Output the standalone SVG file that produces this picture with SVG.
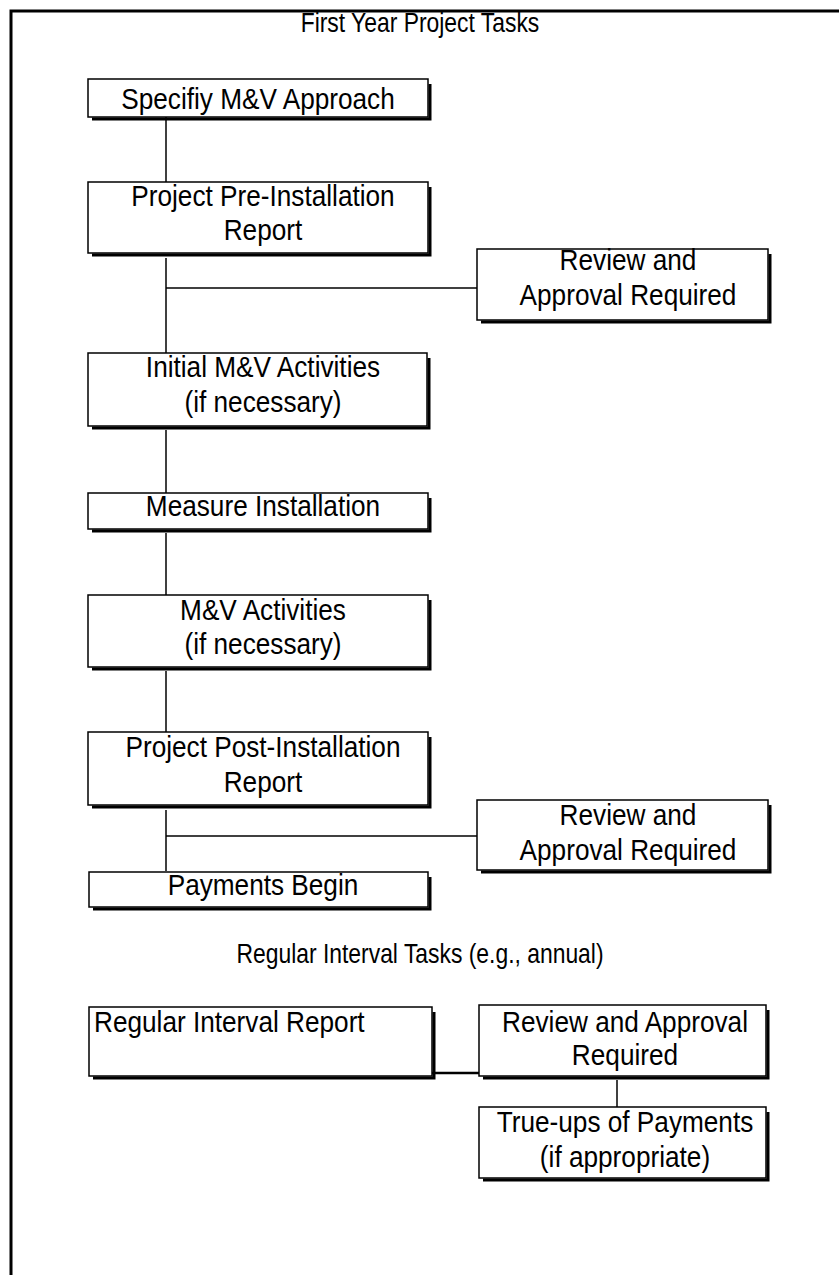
<svg xmlns="http://www.w3.org/2000/svg" width="839" height="1275" viewBox="0 0 839 1275">
<style>
.bg{fill:#fff}
.box{fill:#fff;stroke:#000;stroke-width:1.5}
.sh{fill:none;stroke:#000;stroke-width:3}
.t{font-family:"Liberation Sans",Arial,sans-serif;font-size:27px;fill:#000;text-anchor:middle;transform-box:fill-box;transform-origin:center;transform:scale(0.97,1.08)}
.h{font-size:26px;transform:scale(0.88,1.08)}
.ts{text-anchor:start;transform-origin:left center}
.c{fill:none;stroke:#000;stroke-width:1.5}
.frame{fill:none;stroke:#000;stroke-width:3}
</style>
<rect class="bg" x="0" y="0" width="839" height="1275"/>
<path class="frame" d="M11,1275 V11 H839"/>
<text class="t h" x="420" y="31">First Year Project Tasks</text>
<text class="t h" x="420" y="962">Regular Interval Tasks (e.g., annual)</text>

<g id="connectors">
<path class="c" d="M166,117 V182"/>
<path class="c" d="M166,258 V353"/>
<path class="c" d="M166,288 H477"/>
<path class="c" d="M166,430 V493"/>
<path class="c" d="M166,533 V595"/>
<path class="c" d="M166,671 V732"/>
<path class="c" d="M166,810 V871"/>
<path class="c" d="M166,836 H477"/>
<path class="c" d="M432,1073 H479" style="stroke-width:2.5"/>
<path class="c" d="M617,1080 V1107"/>
</g>

<g id="n1">
<rect class="box" x="88" y="79" width="340" height="38"/>
<path class="sh" d="M92,119 H430 V84"/>
<text class="t" x="258" y="108">Specifiy M&amp;V Approach</text>
</g>
<g id="n2">
<rect class="box" x="88" y="182" width="340" height="71"/>
<path class="sh" d="M92,255 H430 V187"/>
<text class="t" x="263" y="205">Project Pre-Installation</text>
<text class="t" x="263" y="239">Report</text>
</g>
<g id="n3">
<rect class="box" x="477" y="249" width="291" height="71"/>
<path class="sh" d="M481,322 H770 V254"/>
<text class="t" x="628" y="269">Review and</text>
<text class="t" x="628" y="304">Approval Required</text>
</g>
<g id="n4">
<rect class="box" x="88" y="353" width="339" height="73"/>
<path class="sh" d="M92,428 H429 V358"/>
<text class="t" x="263" y="376">Initial M&amp;V Activities</text>
<text class="t" x="263" y="411">(if necessary)</text>
</g>
<g id="n5">
<rect class="box" x="88" y="493" width="340" height="36"/>
<path class="sh" d="M92,531 H430 V498"/>
<text class="t" x="263" y="515">Measure Installation</text>
</g>
<g id="n6">
<rect class="box" x="88" y="595" width="340" height="72"/>
<path class="sh" d="M92,669 H430 V600"/>
<text class="t" x="263" y="619">M&amp;V Activities</text>
<text class="t" x="263" y="653">(if necessary)</text>
</g>
<g id="n7">
<rect class="box" x="88" y="732" width="340" height="73"/>
<path class="sh" d="M92,807 H430 V737"/>
<text class="t" x="263" y="756">Project Post-Installation</text>
<text class="t" x="263" y="791">Report</text>
</g>
<g id="n8">
<rect class="box" x="477" y="800" width="291" height="70"/>
<path class="sh" d="M481,872 H770 V805"/>
<text class="t" x="628" y="824">Review and</text>
<text class="t" x="628" y="859">Approval Required</text>
</g>
<g id="n9">
<rect class="box" x="89" y="872" width="339" height="35"/>
<path class="sh" d="M93,909 H430 V877"/>
<text class="t" x="263" y="894">Payments Begin</text>
</g>
<g id="n10">
<rect class="box" x="89" y="1007" width="343" height="69"/>
<path class="sh" d="M93,1078 H434 V1012"/>
<text class="t ts" x="94" y="1031">Regular Interval Report</text>
</g>
<g id="n11">
<rect class="box" x="479" y="1005" width="287" height="71"/>
<path class="sh" d="M483,1078 H768 V1010"/>
<text class="t" x="625" y="1031">Review and Approval</text>
<text class="t" x="625" y="1064">Required</text>
</g>
<g id="n12">
<rect class="box" x="479" y="1107" width="287" height="71"/>
<path class="sh" d="M483,1180 H768 V1112"/>
<text class="t" x="625" y="1131">True-ups of Payments</text>
<text class="t" x="625" y="1166">(if appropriate)</text>
</g>
</svg>
